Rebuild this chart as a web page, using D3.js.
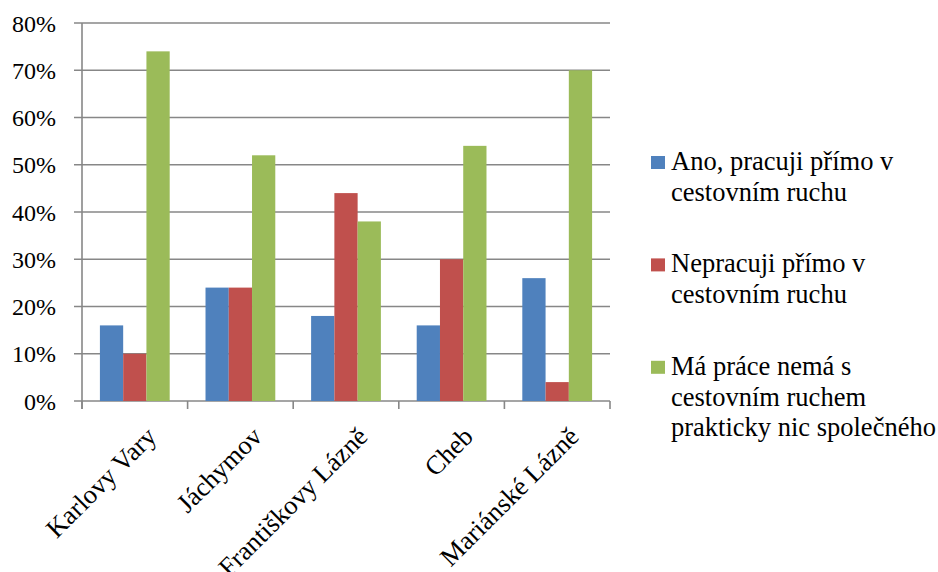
<!DOCTYPE html>
<html>
<head>
<meta charset="utf-8">
<script src="https://cdn.jsdelivr.net/npm/d3@7"></script>
<style>
  html, body { margin: 0; padding: 0; background: #fff; }
  #chart, #chart text { font-family: "Times New Roman", "Liberation Serif", Tinos, "Nimbus Roman", serif !important; }
</style>
</head>
<body>
<svg id="chart" width="938" height="572" font-family="Times New Roman"></svg>
<script>
// Survey: does your job relate to tourism? (share of respondents per town)
const categories = ["Karlovy Vary", "Jáchymov", "Františkovy Lázně", "Cheb", "Mariánské Lázně"];
const seriesNames = [
  "Ano, pracuji přímo v cestovním ruchu",
  "Nepracuji přímo v cestovním ruchu",
  "Má práce nemá s cestovním ruchem prakticky nic společného"
];
const legendLines = [
  ["Ano, pracuji přímo v", "cestovním ruchu"],
  ["Nepracuji přímo v", "cestovním ruchu"],
  ["Má práce nemá s", "cestovním ruchem", "prakticky nic společného"]
];
const anoValues = [0.16, 0.24, 0.18, 0.16, 0.26];
const nepracujiValues = [0.10, 0.24, 0.44, 0.30, 0.04];
const nicValues = [0.74, 0.52, 0.38, 0.54, 0.70];
const yTicks = [0, 0.1, 0.2, 0.3, 0.4, 0.5, 0.6, 0.7, 0.8];
const colors = ["#4F81BD", "#C0504D", "#9BBB59"];

const seriesValues = [anoValues, nepracujiValues, nicValues];
const rows = categories.map((c, i) => ({
  category: c,
  values: seriesNames.map((s, k) => ({ key: s, value: seriesValues[k][i] }))
}));

const svg = d3.select("#chart");
const plot = { left: 82, right: 610, top: 23, bottom: 401 };
const gridColor = "#878787";

const x0 = d3.scaleBand().domain(categories).range([plot.left, plot.right]).padding(0);
const x1 = d3.scaleBand().domain(seriesNames).range([0, x0.bandwidth()])
  .paddingInner(0).paddingOuter(0.77);
const y = d3.scaleLinear().domain([0, 0.8]).range([plot.bottom, plot.top]);

// horizontal gridlines (extend left past the axis as tick marks)
svg.append("g").selectAll("line").data(yTicks).join("line")
  .attr("x1", plot.left - 8).attr("x2", plot.right)
  .attr("y1", d => y(d)).attr("y2", d => y(d))
  .attr("stroke", gridColor).attr("stroke-width", 1.6);

// y axis labels
const yAxis = d3.axisLeft(y).tickValues(yTicks).tickFormat(d3.format(".0%")).tickSize(8).tickPadding(18);
const gy = svg.append("g").attr("transform", `translate(${plot.left},0)`).call(yAxis);
gy.attr("font-family", "Times New Roman").attr("font-size", 24);
gy.select(".domain").remove();
gy.selectAll(".tick line").remove();
gy.selectAll(".tick text").attr("dy", "0.34em").attr("fill", "#000");

// bars
svg.append("g").selectAll("g").data(rows).join("g")
  .attr("transform", d => `translate(${x0(d.category)},0)`)
  .selectAll("rect").data(d => d.values).join("rect")
  .attr("x", d => x1(d.key))
  .attr("width", x1.bandwidth())
  .attr("y", d => y(d.value))
  .attr("height", d => y(0) - y(d.value))
  .attr("fill", (d, i) => colors[i]);

// y axis line
svg.append("line")
  .attr("x1", plot.left).attr("x2", plot.left)
  .attr("y1", plot.top).attr("y2", plot.bottom + 8)
  .attr("stroke", gridColor).attr("stroke-width", 1.6);

// x axis: category boundary ticks
const boundaries = categories.map(c => x0(c)).concat([plot.right]);
svg.append("g").selectAll("line").data(boundaries).join("line")
  .attr("x1", d => d).attr("x2", d => d)
  .attr("y1", plot.bottom).attr("y2", plot.bottom + 8)
  .attr("stroke", gridColor).attr("stroke-width", 1.6);

// rotated category labels
svg.append("g").selectAll("text").data(categories).join("text")
  .attr("transform", d => `translate(${x0(d) + x0.bandwidth() / 2 + 10},${plot.bottom + 24}) rotate(-45)`)
  .attr("text-anchor", "end")
  .attr("dy", "0.7em")
  .attr("font-size", 26.5)
  .attr("fill", "#000")
  .text(d => d);

// legend
const legend = svg.append("g");
let lineIndex = 0;
legendLines.forEach((lines, i) => {
  const base = 170 + lineIndex * 30.7 + i * 41;
  legend.append("rect")
    .attr("x", 651).attr("y", base - 14).attr("width", 14).attr("height", 13)
    .attr("fill", colors[i]);
  lines.forEach((t, j) => {
    legend.append("text")
      .attr("x", 671).attr("y", base + j * 30.7)
      .attr("font-size", 26.5)
      .attr("fill", "#000")
      .text(t);
  });
  lineIndex += lines.length;
});
</script>
</body>
</html>
